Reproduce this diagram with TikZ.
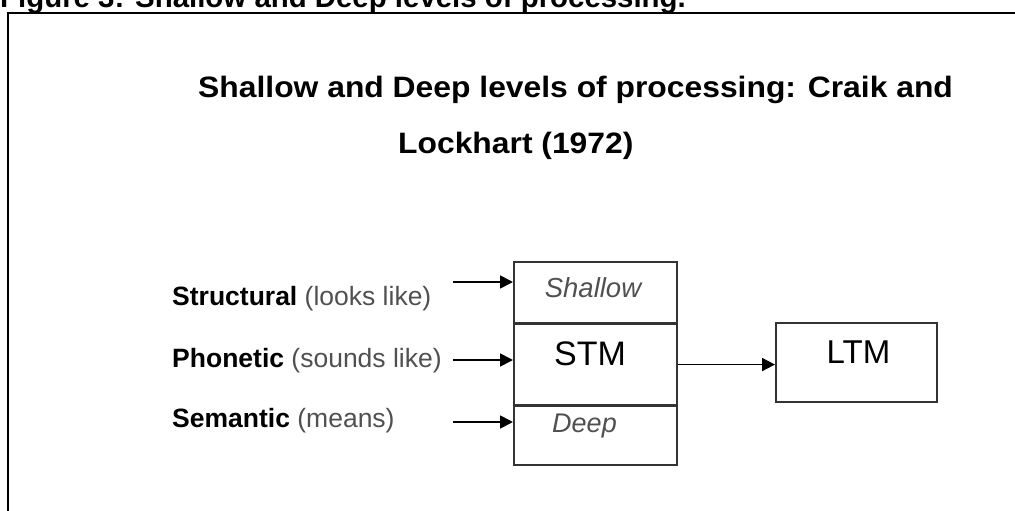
\documentclass[tikz,border=0pt]{standalone}
\usepackage{fontspec}
\setmainfont{Liberation Sans}
\usetikzlibrary{arrows.meta}
\definecolor{cellgray}{HTML}{333333}
\definecolor{softgray}{HTML}{505050}
\newcommand{\sizeto}[1]{\fontsize{#1}{#1}\selectfont}
\begin{document}
\begin{tikzpicture}[x=1pt, y=-1pt,
    cell/.style={draw=cellgray, line width=1.7pt, inner sep=0pt, minimum width=163pt},
    txt/.style={inner sep=0pt, anchor=base},
    feed/.style={line width=1.8pt, -{Triangle[length=13pt, width=13pt]}},
    lbl/.style={inner sep=0pt, anchor=base west, font=\sizeto{26.5}}]
    \useasboundingbox (0,0) rectangle (1015,511);
    \node[anchor=base west, inner sep=0pt, font=\sizeto{29.4}\bfseries] (caption) at (0,8)
      {Figure 3: Shallow and Deep levels of processing.};
    \draw[line width=2pt] (7.7,511) -- (7.7,13.5) -- (1015,13.5);
    \node[anchor=base west, inner sep=0pt, font=\sizeto{29.5}\bfseries] (title1) at (198,97)
      {\scalebox{1.079}[1]{Shallow and Deep levels of processing: Craik and}};
    \node[anchor=base west, inner sep=0pt, font=\sizeto{29.5}\bfseries] (title2) at (398,153)
      {\scalebox{1.079}[1]{Lockhart (1972)}};
    \node[cell, anchor=north west, minimum height=61pt] (shallow) at (513,261) {};
    \node[cell, anchor=north, minimum height=80pt] (stm) at (shallow.south) {};
    \node[cell, anchor=north, minimum height=59pt] (deep) at (stm.south) {};
    \node[cell, anchor=north west, minimum width=161pt, minimum height=79pt] (ltm) at (775,322) {};
    \node[txt, font=\sizeto{27.5}\itshape, text=softgray] (shallowtxt) at (593,297) {Shallow};
    \node[txt, font=\sizeto{34}] (stmtxt) at (590,365) {STM};
    \node[txt, font=\sizeto{27}\itshape, text=softgray] (deeptxt) at (584.5,432) {Deep};
    \node[txt, font=\sizeto{33}] (ltmtxt) at (858.5,363) {LTM};
    \node[lbl] (structural) at (172,305) {\textbf{Structural} \textcolor{softgray}{(looks like)}};
    \node[lbl] (phonetic) at (172,367) {\textbf{Phonetic} \textcolor{softgray}{(sounds like)}};
    \node[lbl] (semantic) at (172,427) {\textbf{Semantic} \textcolor{softgray}{(means)}};
    \coordinate (inA) at (453,282);
    \coordinate (inB) at (453,360);
    \coordinate (inC) at (453,422);
    \draw[feed] (inA) -- (inA -| shallow.west);
    \draw[feed] (inB) -- (inB -| stm.west);
    \draw[feed] (inC) -- (inC -| deep.west);
    \draw[feed] (stm.east) -- (stm.east -| ltm.west);
  \end{tikzpicture}
\end{document}
